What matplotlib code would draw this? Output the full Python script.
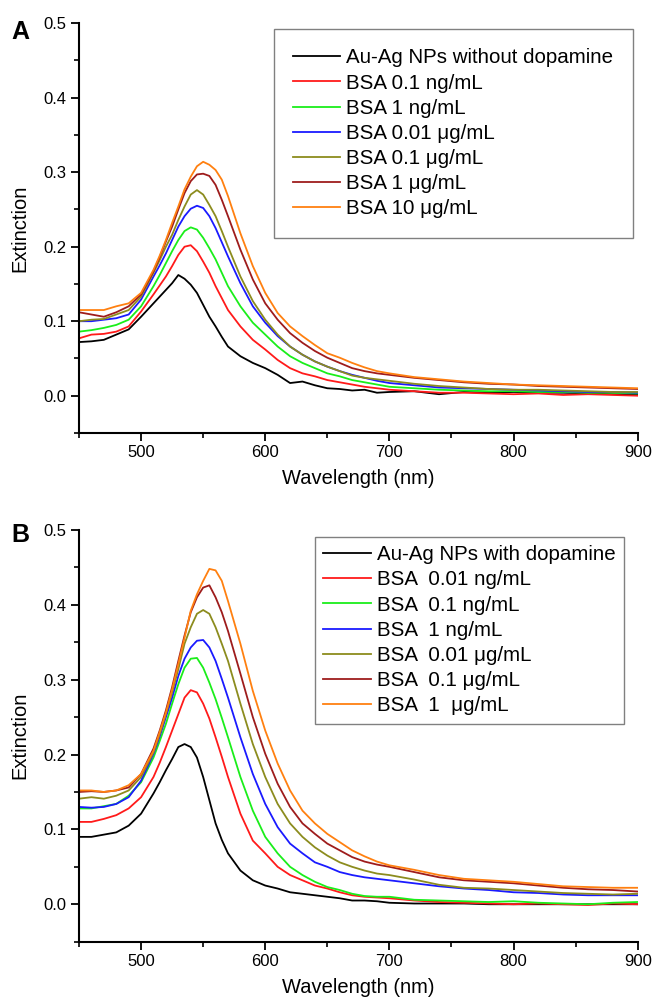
import matplotlib
matplotlib.use("Agg")
import matplotlib.pyplot as plt
from matplotlib.ticker import MultipleLocator

plt.rcParams['font.family'] = ['Liberation Sans', 'DejaVu Sans']

wavelength = [450, 460, 470, 480, 490, 500, 510, 515, 520, 525, 530, 535, 540, 545, 550, 555,
              560, 565, 570, 580, 590, 600, 610, 620, 630, 640, 650, 660, 670, 680, 690, 700,
              720, 740, 760, 780, 800, 820, 840, 860, 880, 900]

# panel A: without dopamine
a_black = [.072, .073, .075, .082, .089, .106, .124, .133, .142, .151, .162, .157, .149, .138, .122, .106,
           .093, .079, .066, .053, .044, .037, .028, .017, .019, .014, .010, .009, .007, .008, .004, .005,
           .006, .002, .005, .004, .005, .004, .004, .003, .002, .002]
a_red = [.077, .082, .083, .086, .093, .113, .136, .148, .160, .174, .189, .200, .202, .194, .180, .165,
         .147, .131, .115, .093, .075, .062, .048, .037, .030, .026, .021, .018, .015, .012, .010, .008,
         .006, .004, .004, .003, .002, .003, .001, .002, .001, .000]
a_green = [.086, .088, .091, .095, .102, .120, .147, .162, .178, .194, .209, .221, .226, .223, .212, .198,
           .183, .165, .147, .120, .098, .082, .066, .053, .044, .037, .030, .026, .021, .018, .015, .012,
           .010, .008, .007, .006, .006, .005, .005, .004, .004, .003]
a_blue = [.100, .100, .102, .104, .109, .129, .160, .175, .191, .209, .227, .241, .251, .255, .252, .241,
          .225, .206, .187, .151, .120, .098, .080, .066, .055, .046, .039, .033, .028, .024, .020, .017,
          .014, .011, .010, .009, .008, .007, .006, .005, .005, .004]
a_olive = [.100, .102, .103, .109, .115, .133, .165, .182, .200, .216, .236, .254, .270, .276, .270, .256,
           .241, .221, .200, .160, .127, .102, .082, .066, .055, .046, .039, .033, .027, .024, .022, .020,
           .016, .013, .011, .009, .008, .008, .007, .006, .005, .005]
a_darkred = [.112, .109, .106, .112, .120, .136, .167, .186, .207, .227, .250, .272, .288, .297, .298, .295,
             .283, .263, .241, .196, .156, .124, .102, .084, .071, .060, .051, .044, .037, .033, .030, .028,
             .024, .021, .018, .016, .015, .013, .012, .011, .010, .009]
a_orange = [.115, .115, .115, .120, .124, .138, .169, .188, .209, .232, .254, .277, .294, .308, .314, .310,
            .303, .290, .268, .218, .174, .138, .111, .093, .080, .068, .057, .051, .044, .038, .033, .030,
            .025, .022, .019, .017, .015, .014, .013, .012, .011, .010]

# panel B: with dopamine
b_black = [.090, .090, .093, .096, .105, .121, .148, .163, .179, .194, .210, .214, .210, .196, .170, .139,
           .108, .086, .068, .045, .032, .025, .021, .016, .014, .012, .010, .008, .005, .005, .004, .002,
           .001, .001, .001, .000, .000, .000, .000, .000, .000, .000]
b_red = [.110, .110, .114, .119, .128, .143, .170, .189, .210, .232, .254, .276, .286, .283, .268, .248,
         .223, .197, .170, .121, .085, .068, .050, .039, .032, .025, .021, .016, .012, .010, .009, .008,
         .005, .003, .002, .001, .000, .001, .000, -.001, .001, .000]
b_green = [.128, .128, .131, .134, .145, .163, .196, .218, .241, .268, .294, .316, .328, .329, .316, .296,
           .274, .249, .223, .170, .125, .090, .068, .050, .039, .030, .023, .019, .014, .011, .010, .010,
           .006, .005, .004, .003, .004, .002, .001, .000, .002, .003]
b_blue = [.130, .129, .130, .134, .143, .165, .201, .224, .250, .276, .305, .328, .343, .352, .353, .343,
          .325, .301, .276, .223, .174, .134, .103, .081, .068, .056, .050, .043, .039, .036, .034, .032,
          .028, .024, .021, .019, .016, .015, .013, .012, .012, .012]
b_olive = [.141, .143, .141, .145, .152, .170, .203, .227, .254, .283, .314, .348, .370, .388, .393, .388,
           .370, .348, .325, .268, .214, .170, .134, .108, .090, .076, .065, .056, .050, .045, .041, .039,
           .033, .026, .022, .021, .019, .017, .015, .014, .013, .014]
b_darkred = [.150, .151, .150, .152, .156, .174, .208, .232, .259, .290, .325, .359, .390, .410, .423, .426,
             .410, .390, .365, .308, .250, .201, .161, .130, .108, .094, .081, .072, .063, .057, .053, .050,
             .043, .036, .032, .030, .028, .025, .022, .020, .019, .017]
b_orange = [.152, .152, .150, .152, .159, .174, .205, .230, .256, .287, .321, .356, .392, .414, .432, .448,
            .446, .432, .405, .348, .285, .232, .188, .152, .125, .108, .094, .083, .072, .064, .057, .052,
            .046, .039, .034, .032, .030, .027, .024, .023, .022, .022]

colors = ['black', '#ff1a1a', '#1aee1a', '#1a1aff', '#8c8c1e', '#9e1c1c', '#ff8010']

labels_a = ['Au-Ag NPs without dopamine', 'BSA 0.1 ng/mL', 'BSA 1 ng/mL', 'BSA 0.01 \u03bcg/mL',
            'BSA 0.1 \u03bcg/mL', 'BSA 1 \u03bcg/mL', 'BSA 10 \u03bcg/mL']
labels_b = ['Au-Ag NPs with dopamine', 'BSA  0.01 ng/mL', 'BSA  0.1 ng/mL', 'BSA  1 ng/mL',
            'BSA  0.01 \u03bcg/mL', 'BSA  0.1 \u03bcg/mL', 'BSA  1  \u03bcg/mL']

series_a = [a_black, a_red, a_green, a_blue, a_olive, a_darkred, a_orange]
series_b = [b_black, b_red, b_green, b_blue, b_olive, b_darkred, b_orange]

fig = plt.figure(figsize=(6.54, 10.05), dpi=100)
ax1 = fig.add_axes([0.1208, 0.5692, 0.8543, 0.4077])
ax2 = fig.add_axes([0.1208, 0.0630, 0.8543, 0.4097])


def style(ax):
    ax.set_xlim(450, 900)
    ax.set_ylim(-0.05, 0.5)
    ax.xaxis.set_major_locator(MultipleLocator(100))
    ax.xaxis.set_minor_locator(MultipleLocator(50))
    ax.yaxis.set_major_locator(MultipleLocator(0.1))
    ax.yaxis.set_minor_locator(MultipleLocator(0.05))
    ax.set_xticks([500, 600, 700, 800, 900])
    ax.yaxis.set_major_formatter(plt.FormatStrFormatter('%.1f'))
    ax.spines['top'].set_visible(False)
    ax.spines['right'].set_visible(False)
    for s in ['left', 'bottom']:
        ax.spines[s].set_linewidth(1.5)
    ax.tick_params(which='major', direction='out', length=6, width=1.3, labelsize=12, pad=3)
    ax.tick_params(which='minor', direction='out', length=3.5, width=1.2)
    ax.set_xlabel('Wavelength (nm)', fontsize=14.5, labelpad=6)
    ax.set_ylabel('Extinction', fontsize=14.5, labelpad=10)


for ax, series, labels in [(ax1, series_a, labels_a), (ax2, series_b, labels_b)]:
    for y, c, lab in zip(series, colors, labels):
        ax.plot(wavelength, y, color=c, lw=1.3, label=lab)
    style(ax)

leg1 = ax1.legend(loc='upper right', bbox_to_anchor=(0.9916, 0.986), borderaxespad=0,
                  fontsize=14.8, handlelength=2.3, handletextpad=0.3, labelspacing=0.3,
                  borderpad=0.95, fancybox=False, framealpha=1)
leg1.get_frame().set_edgecolor('#808080')
leg1.get_frame().set_linewidth(1.0)

leg2 = ax2.legend(loc='upper right', bbox_to_anchor=(0.9755, 0.9837), borderaxespad=0,
                  fontsize=14.8, handlelength=2.3, handletextpad=0.3, labelspacing=0.3,
                  borderpad=0.42, fancybox=False, framealpha=1)
leg2.get_frame().set_edgecolor('#808080')
leg2.get_frame().set_linewidth(1.0)

fig.text(0.018, 1 - 39 / 1005, 'A', fontsize=18, fontweight='bold', va='baseline')
fig.text(0.018, 1 - 542 / 1005, 'B', fontsize=18, fontweight='bold', va='baseline')

fig.savefig('out.png', dpi=100)
